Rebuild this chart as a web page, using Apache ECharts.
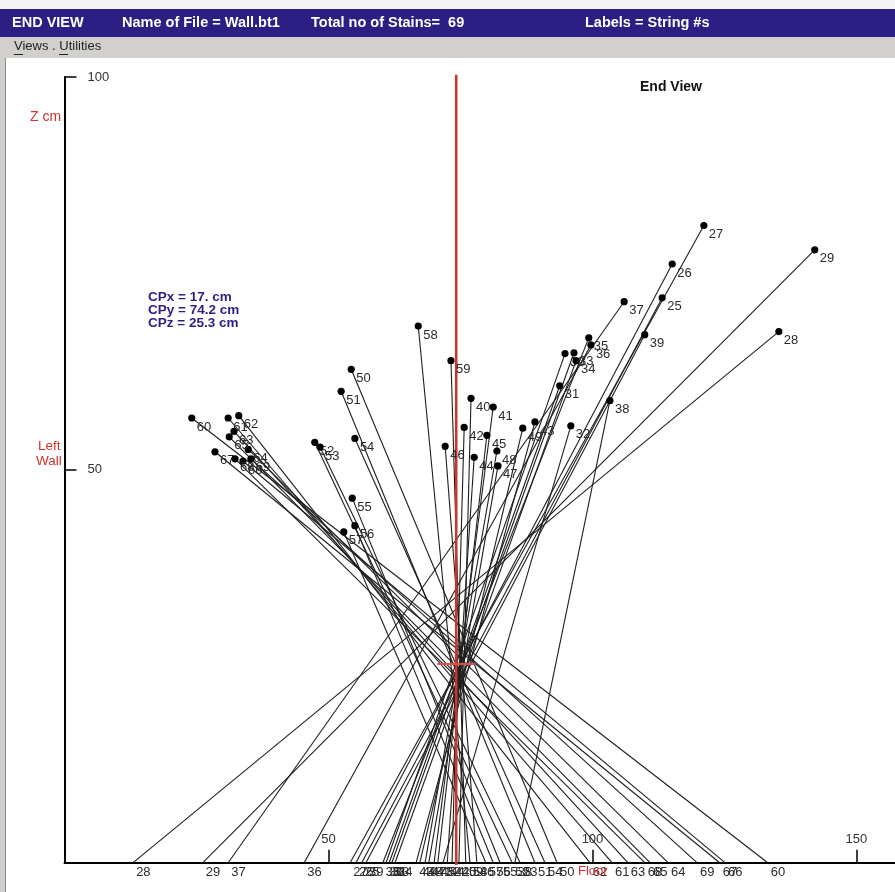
<!DOCTYPE html>
<html>
<head>
<meta charset="utf-8">
<script src="https://cdn.jsdelivr.net/npm/echarts@6/dist/echarts.min.js"></script>
<style>
  html, body { margin: 0; padding: 0; background: #ffffff; }
  #chart { width: 895px; height: 892px; }
</style>
</head>
<body>
<div id="chart"></div>
<script>
// Stain string numbers
const stainIds = [25, 26, 27, 28, 29, 30, 31, 32, 33, 34, 35, 36, 37, 38, 39,
                  40, 41, 42, 43, 44, 45, 46, 47, 48, 49,
                  50, 51, 52, 53, 54, 55, 56, 57, 58, 59,
                  60, 61, 62, 63, 64, 65, 66, 67, 68, 69];
// Stain position, horizontal (Y, cm)
const stainY = [113.2, 115.1, 121.1, 135.3, 142.1, 94.8, 93.8, 95.9, 96.5, 96.9, 99.3, 99.7, 106.0, 103.3, 109.9,
                77.0, 81.2, 75.7, 89.1, 77.6, 80.0, 72.1, 82.1, 81.9, 86.8,
                54.3, 52.4, 47.4, 48.4, 55.0, 54.5, 55.0, 52.9, 67.0, 73.2,
                24.1, 31.0, 33.0, 32.1, 34.8, 31.2, 33.8, 28.5, 32.3, 35.3];
// Stain height (Z, cm)
const stainZ = [71.9, 76.2, 81.1, 67.6, 78.0, 64.8, 60.7, 55.6, 64.9, 63.9, 66.8, 65.9, 71.4, 58.8, 67.2,
                59.1, 58.0, 55.4, 56.1, 51.6, 54.4, 53.0, 50.5, 52.4, 55.3,
                62.8, 60.0, 53.5, 52.9, 54.0, 46.4, 42.9, 42.1, 68.3, 63.9,
                56.6, 56.6, 56.9, 54.9, 52.6, 54.2, 51.1, 52.3, 51.4, 51.4];
// Where each string reaches the floor (Y, cm at Z = 0)
const floorY = [56.3, 55.2, 54.1, 13.0, 26.2, 60.9, 61.5, 71.7, 62.0, 62.6, 60.3, 45.4, 31.0, 85.3, 57.1,
                74.7, 70.0, 73.4, 66.6, 72.5, 70.7, 78.1, 69.0, 68.3, 67.3,
                93.3, 89.1, 84.8, 86.3, 91.0, 82.5, 81.2, 79.8, 76.8, 76.0,
                133.2, 103.7, 99.5, 106.7, 114.3, 110.9, 125.1, 124.1, 109.9, 119.8];

// Convergence point
const cpX = 17.0, cpY = 74.2, cpZ = 25.3;
const fileName = 'Wall.bt1';
const totalStains = 69;

// Axis ticks
const yTicks = [50, 100, 150];
const zTicks = [50, 100];

const navy = '#2b1f84';
const red = '#d6302a';
const font = 'Arial, "Liberation Sans", sans-serif';
const numFont = '13px ' + font;

const chart = echarts.init(document.getElementById('chart'), null, { renderer: 'canvas' });

const stainData = stainIds.map((id, i) => [stainY[i], stainZ[i], floorY[i], id]);

const option = {
  animation: false,
  backgroundColor: '#ffffff',
  grid: { left: 64.5, right: 0, top: 77, bottom: 29.3, containLabel: false },
  xAxis: {
    type: 'value', min: 0, max: 157.3,
    axisLine: { show: true, onZero: false, lineStyle: { color: '#000', width: 2 } },
    axisTick: { show: true, inside: true, length: 13, customValues: yTicks, lineStyle: { color: '#000', width: 1.5 } },
    axisLabel: { show: true, inside: true, margin: 17, customValues: yTicks, color: '#333', fontSize: 13, fontFamily: font },
    splitLine: { show: false }
  },
  yAxis: {
    type: 'value', min: 0, max: 100,
    axisLine: { show: true, onZero: false, lineStyle: { color: '#000', width: 2 } },
    axisTick: { show: true, inside: true, length: 12, customValues: zTicks, lineStyle: { color: '#000', width: 1.5 } },
    axisLabel: { show: true, inside: true, margin: 23, customValues: zTicks, color: '#333', fontSize: 13, fontFamily: font },
    splitLine: { show: false }
  },
  series: [
    {
      // string lines from the floor up to each stain
      type: 'custom', name: 'strings', z: 2, clip: false,
      data: stainData,
      encode: { x: [0, 2], y: 1 },
      renderItem: function (params, api) {
        const p = api.coord([api.value(0), api.value(1)]);
        const f = api.coord([api.value(2), 0]);
        return {
          type: 'line',
          shape: { x1: f[0], y1: f[1], x2: p[0], y2: p[1] },
          style: { stroke: '#1e1e1e', lineWidth: 1.1 }
        };
      }
    },
    {
      // convergence point: vertical reference line and cross
      type: 'custom', name: 'convergence', z: 3, clip: false,
      data: [[cpY, cpZ]],
      renderItem: function (params, api) {
        const top = api.coord([api.value(0), 100.3]);
        const bot = api.coord([api.value(0), -0.3]);
        const l = api.coord([api.value(0) - 3.6, api.value(1)]);
        const r = api.coord([api.value(0) + 3.6, api.value(1)]);
        return {
          type: 'group',
          children: [
            { type: 'line', shape: { x1: top[0], y1: top[1], x2: bot[0], y2: bot[1] }, style: { stroke: red, lineWidth: 2.5 } },
            { type: 'line', shape: { x1: l[0], y1: l[1], x2: r[0], y2: r[1] }, style: { stroke: '#d85050', lineWidth: 2 } }
          ]
        };
      }
    },
    {
      // stain dots with their string numbers, and numbers on the floor
      type: 'custom', name: 'stains', z: 4, clip: false,
      data: stainData,
      encode: { x: [0, 2], y: 1 },
      renderItem: function (params, api) {
        const p = api.coord([api.value(0), api.value(1)]);
        const f = api.coord([api.value(2), 0]);
        const id = String(api.value(3));
        return {
          type: 'group',
          children: [
            { type: 'circle', shape: { cx: p[0], cy: p[1], r: 3.6 }, style: { fill: '#000' } },
            { type: 'text', x: p[0] + 5, y: p[1] + 9,
              style: { text: id, fill: '#2a2a2a', font: numFont, align: 'left', verticalAlign: 'middle' } },
            { type: 'text', x: f[0] + 3, y: f[1] + 10,
              style: { text: id, fill: '#2a2a2a', font: numFont, align: 'left', verticalAlign: 'middle' } }
          ]
        };
      }
    }
  ],
  graphic: [
    // window title bar
    { type: 'rect', left: 0, top: 0, shape: { width: 895, height: 9 }, style: { fill: '#f4f4f4' }, z: 10 },
    { type: 'rect', left: 0, top: 9, shape: { width: 895, height: 28 }, style: { fill: navy }, z: 10 },
    { type: 'text', left: 12, top: 15, style: { text: 'END VIEW', fill: '#fff', font: 'bold 14.5px ' + font }, z: 11 },
    { type: 'text', left: 122, top: 15, style: { text: 'Name of File = ' + fileName, fill: '#fff', font: 'bold 14.5px ' + font }, z: 11 },
    { type: 'text', left: 311, top: 15, style: { text: 'Total no of Stains=  ' + totalStains, fill: '#fff', font: 'bold 14.5px ' + font }, z: 11 },
    { type: 'text', left: 585, top: 15, style: { text: 'Labels = String #s', fill: '#fff', font: 'bold 14.5px ' + font }, z: 11 },
    // menu bar
    { type: 'rect', left: 0, top: 37, shape: { width: 895, height: 21 }, style: { fill: '#d2d0cc' }, z: 10 },
    { type: 'text', left: 14, top: 40, style: { text: 'Views . Utilities', fill: '#222', font: '13px ' + font }, z: 11 },
    { type: 'rect', left: 14, top: 54, shape: { width: 9, height: 1 }, style: { fill: '#222' }, z: 11 },
    { type: 'rect', left: 59, top: 54, shape: { width: 9, height: 1 }, style: { fill: '#222' }, z: 11 },
    // window left border
    { type: 'rect', left: 0, top: 58, shape: { width: 5, height: 834 }, style: { fill: '#d2d0cc' }, z: 10 },
    { type: 'rect', left: 5, top: 58, shape: { width: 1, height: 834 }, style: { fill: '#8a8a8a' }, z: 10 },
    // view heading and convergence readout
    { type: 'text', left: 640, top: 80, style: { text: 'End View', fill: '#111', font: 'bold 14px ' + font }, z: 11 },
    { type: 'text', left: 148, top: 290, style: { text: 'CPx = ' + cpX.toFixed(0) + '. cm', fill: navy, font: 'bold 13.5px ' + font }, z: 11 },
    { type: 'text', left: 148, top: 303, style: { text: 'CPy = ' + cpY.toFixed(1) + ' cm', fill: navy, font: 'bold 13.5px ' + font }, z: 11 },
    { type: 'text', left: 148, top: 316, style: { text: 'CPz = ' + cpZ.toFixed(1) + ' cm', fill: navy, font: 'bold 13.5px ' + font }, z: 11 },
    // axis names
    { type: 'text', left: 30, top: 110, style: { text: 'Z cm', fill: red, font: '14px ' + font }, z: 11 },
    { type: 'text', left: 38, top: 439, style: { text: 'Left', fill: red, font: '13.5px ' + font }, z: 11 },
    { type: 'text', left: 36, top: 454, style: { text: 'Wall', fill: red, font: '13.5px ' + font }, z: 11 },
    { type: 'text', left: 578, top: 865, style: { text: 'Floor', fill: red, font: '13px ' + font }, z: 11 }
  ]
};

chart.setOption(option);
</script>
</body>
</html>
